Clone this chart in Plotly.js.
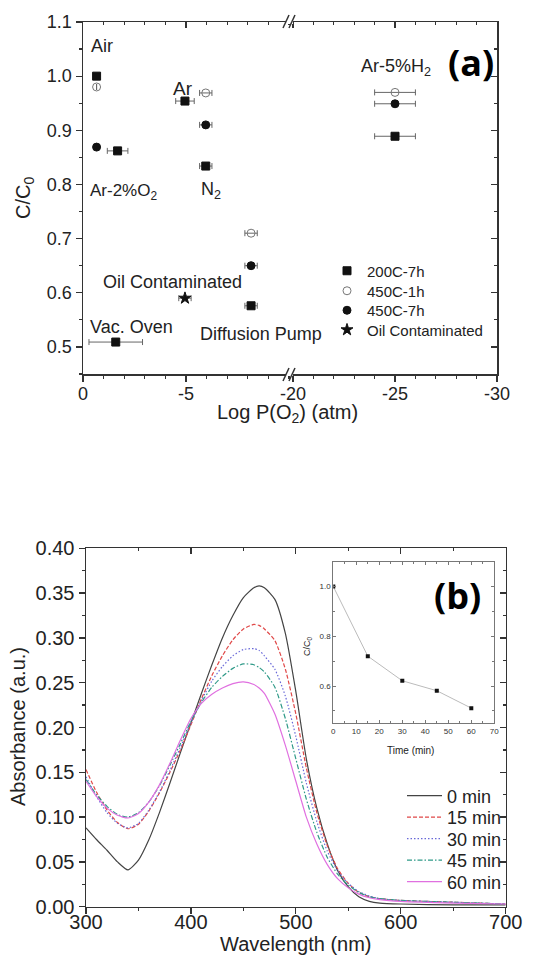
<!DOCTYPE html>
<html><head><meta charset="utf-8">
<script src="https://cdn.plot.ly/plotly-3.0.1.min.js"></script>
<style>html,body{margin:0;padding:0;background:#fff}#chart{width:554px;height:959px}</style>
</head><body><div id="chart"></div>
<script>
// ---------- Panel (a) data: Log P(O2) vs C/C0 ----------
const s200_x   = [-0.66, -1.68, -4.95, -5.96, -8.16, -1.59, -25.0];
const s200_y   = [1.000, 0.862, 0.954, 0.834, 0.576, 0.509, 0.889];
const s200_err = [0, 0.5, 0.45, 0.3, 0.3, 1.3, 1.0];

const s450a_x   = [-0.66, -5.96, -8.16, -25.0];
const s450a_y   = [0.980, 0.969, 0.710, 0.970];
const s450a_err = [0, 0.3, 0.3, 1.0];

const s450b_x   = [-0.66, -5.96, -8.16, -25.0];
const s450b_y   = [0.869, 0.910, 0.650, 0.949];
const s450b_err = [0, 0.3, 0.3, 1.0];

const oil_x   = [-4.95];
const oil_y   = [0.590];
const oil_err = [0.3];

const seriesNamesA = ['200C-7h', '450C-1h', '450C-7h', 'Oil Contaminated'];

// ---------- Panel (b) data: absorbance spectra ----------
const wavelength = [300,310,320,330,340,350,360,370,380,390,400,410,420,430,440,450,460,465,470,480,490,500,510,520,530,540,550,560,570,580,600,650,700];
const abs0  = [0.088,0.075,0.063,0.050,0.041,0.052,0.075,0.105,0.138,0.172,0.205,0.238,0.270,0.300,0.325,0.345,0.356,0.358,0.356,0.343,0.305,0.240,0.165,0.110,0.070,0.040,0.022,0.011,0.006,0.004,0.003,0.002,0.002];
const abs15 = [0.153,0.128,0.108,0.094,0.087,0.092,0.107,0.127,0.150,0.175,0.203,0.232,0.258,0.280,0.298,0.310,0.315,0.314,0.310,0.297,0.265,0.215,0.155,0.105,0.068,0.042,0.026,0.016,0.011,0.009,0.007,0.005,0.003];
const abs30 = [0.145,0.123,0.105,0.093,0.088,0.093,0.108,0.128,0.152,0.178,0.205,0.230,0.252,0.268,0.280,0.287,0.288,0.286,0.280,0.265,0.235,0.190,0.138,0.095,0.062,0.040,0.026,0.017,0.012,0.009,0.007,0.005,0.003];
const abs45 = [0.142,0.125,0.112,0.103,0.100,0.105,0.117,0.135,0.158,0.182,0.207,0.228,0.245,0.257,0.266,0.271,0.270,0.267,0.262,0.245,0.210,0.165,0.120,0.083,0.055,0.036,0.024,0.016,0.011,0.009,0.007,0.005,0.003];
const abs60 = [0.140,0.123,0.110,0.102,0.099,0.104,0.117,0.136,0.160,0.186,0.210,0.227,0.237,0.244,0.249,0.251,0.248,0.244,0.238,0.215,0.180,0.140,0.100,0.070,0.047,0.031,0.021,0.014,0.010,0.008,0.006,0.004,0.003];
const specNames = ['0 min','15 min','30 min','45 min','60 min'];

// inset
const time_min = [0, 15, 30, 45, 60];
const cc0      = [1.00, 0.72, 0.621, 0.581, 0.511];

// ---------- helpers ----------
const W = 554, H = 959;
const px = v => v / W;
const py = v => 1 - v / H;
const FONT = 'Liberation Sans, Arial, sans-serif';
const AX = '#333';

function split(xs, ys, es, left) {
  const o = {x: [], y: [], e: []};
  xs.forEach((v, i) => { if ((v > -15) === left) { o.x.push(v); o.y.push(ys[i]); o.e.push(es[i]); } });
  return o;
}

const styleA = [
  {symbol: 'square', color: '#111', size: 8},
  {symbol: 'circle-open', color: '#777', size: 8},
  {symbol: 'circle', color: '#111', size: 8},
  {symbol: 'star', color: '#111', size: 9}
];
const dataA = [[s200_x, s200_y, s200_err], [s450a_x, s450a_y, s450a_err], [s450b_x, s450b_y, s450b_err], [oil_x, oil_y, oil_err]];
const legA = ['legend', 'legend3', 'legend4', 'legend5'];
const legArows = [271, 291, 310.5, 330];

const traces = [];
dataA.forEach((d, k) => {
  [true, false].forEach(left => {
    const s = split(d[0], d[1], d[2], left);
    if (!s.x.length) return;
    traces.push({
      type: 'scatter', mode: 'markers', name: seriesNamesA[k],
      x: s.x, y: s.y, xaxis: left ? 'x' : 'x2', yaxis: 'y',
      marker: {symbol: styleA[k].symbol, color: styleA[k].color, size: styleA[k].size, line: {width: 1, color: styleA[k].color}},
      error_x: {type: 'data', array: s.e, color: '#666', thickness: 1, width: 3},
      showlegend: left, legend: legA[k]
    });
  });
});

const specStyle = [
  {color: '#444', dash: 'solid'},
  {color: '#e04848', dash: '4px,2px'},
  {color: '#6868d8', dash: '1.5px,2px'},
  {color: '#2f9a88', dash: '5px,2px,1.5px,2px'},
  {color: '#e070e0', dash: 'solid'}
];
const legB = ['legend2', 'legend6', 'legend7', 'legend8', 'legend9'];
const legBrows = [796, 817.5, 839, 860.5, 882];
[abs0, abs15, abs30, abs45, abs60].forEach((a, k) => {
  traces.push({
    type: 'scatter', mode: 'lines', name: specNames[k], x: wavelength, y: a,
    xaxis: 'x5', yaxis: 'y3', legend: legB[k],
    line: {color: specStyle[k].color, dash: specStyle[k].dash, width: 1.2, shape: 'spline', smoothing: 0.6}
  });
});
traces.push({
  type: 'scatter', mode: 'lines+markers', x: time_min, y: cc0, xaxis: 'x7', yaxis: 'y5',
  showlegend: false, line: {color: '#bbb', width: 1}, marker: {symbol: 'square', size: 4, color: '#111'}
});
// empty traces to register mirror axes
[['x3','y'],['x4','y'],['x2','y2'],['x6','y3'],['x5','y4']].forEach(p => {
  traces.push({type: 'scatter', x: [], y: [], xaxis: p[0], yaxis: p[1], showlegend: false, hoverinfo: 'skip'});
});

const tfA = {family: FONT, size: 18, color: '#222'};
const tfB = {family: FONT, size: 20, color: '#222'};
const baseAx = {showline: true, linecolor: AX, linewidth: 1.5, zeroline: false, showgrid: false, tickcolor: AX, tickwidth: 1.2, fixedrange: true};

const domA_y = [py(374), py(22)];
const domA_x1 = [px(83), px(290)];
const domA_x2 = [px(290), px(497)];
const domB_x = [px(86), px(505.7)];
const domB_y = [py(906.7), py(548.3)];

const layout = {
  width: W, height: H, margin: {l: 0, r: 0, t: 0, b: 0},
  paper_bgcolor: '#fff', plot_bgcolor: '#fff', font: {family: FONT, color: '#222'},
  showlegend: true,
  // ---- panel (a)
  xaxis: Object.assign({}, baseAx, {domain: domA_x1, range: [0, -10.05], anchor: 'y', ticks: 'outside', ticklen: 6,
    tickmode: 'array', tickvals: [0, -5], ticktext: ['0', '-5'], tickfont: tfA, ticklabelstandoff: -3,
    minor: {tickmode: 'linear', tick0: 0, dtick: 1, ticks: 'outside', ticklen: 3, tickcolor: AX}}),
  xaxis2: Object.assign({}, baseAx, {domain: domA_x2, range: [-19.85, -30], anchor: 'y', ticks: 'outside', ticklen: 6,
    tickmode: 'array', tickvals: [-20, -25, -30], ticktext: ['-20', '-25', '-30'], tickfont: tfA, ticklabelstandoff: -3,
    minor: {tickmode: 'linear', tick0: 0, dtick: 1, ticks: 'outside', ticklen: 3, tickcolor: AX}}),
  xaxis3: Object.assign({}, baseAx, {overlaying: 'x', side: 'top', anchor: 'y', range: [0, -10.05], ticks: 'inside', ticklen: 6,
    tickmode: 'array', tickvals: [0, -5], showticklabels: false,
    minor: {tickmode: 'linear', tick0: 0, dtick: 1, ticks: 'inside', ticklen: 3, tickcolor: AX}}),
  xaxis4: Object.assign({}, baseAx, {overlaying: 'x2', side: 'top', anchor: 'y', range: [-19.85, -30], ticks: 'inside', ticklen: 6,
    tickmode: 'array', tickvals: [-20, -25, -30], showticklabels: false,
    minor: {tickmode: 'linear', tick0: 0, dtick: 1, ticks: 'inside', ticklen: 3, tickcolor: AX}}),
  yaxis: Object.assign({}, baseAx, {domain: domA_y, range: [0.45, 1.1], anchor: 'x', ticks: 'outside', ticklen: 6,
    tick0: 0, dtick: 0.1, tickformat: '.1f', tickfont: tfA,
    minor: {tick0: 0, dtick: 0.05, ticks: 'outside', ticklen: 3, tickcolor: AX}}),
  yaxis2: Object.assign({}, baseAx, {overlaying: 'y', side: 'right', anchor: 'x2', range: [0.45, 1.1], ticks: 'inside', ticklen: 6,
    tick0: 0, dtick: 0.1, showticklabels: false,
    minor: {tick0: 0, dtick: 0.05, ticks: 'inside', ticklen: 3, tickcolor: AX}}),
  // ---- panel (b)
  xaxis5: Object.assign({}, baseAx, {domain: domB_x, range: [300, 700], anchor: 'y3', ticks: 'outside', ticklen: 6,
    tick0: 300, dtick: 100, tickfont: tfB, ticklabelstandoff: -9,
    minor: {tick0: 300, dtick: 50, ticks: 'outside', ticklen: 3, tickcolor: AX}}),
  xaxis6: Object.assign({}, baseAx, {overlaying: 'x5', side: 'top', anchor: 'y3', range: [300, 700], ticks: 'inside', ticklen: 6,
    tick0: 300, dtick: 100, showticklabels: false,
    minor: {tick0: 300, dtick: 50, ticks: 'inside', ticklen: 3, tickcolor: AX}}),
  yaxis3: Object.assign({}, baseAx, {domain: domB_y, range: [0, 0.40], anchor: 'x5', ticks: 'outside', ticklen: 6,
    tick0: 0, dtick: 0.05, tickformat: '.2f', tickfont: tfB,
    minor: {tick0: 0, dtick: 0.025, ticks: 'outside', ticklen: 3, tickcolor: AX}}),
  yaxis4: Object.assign({}, baseAx, {overlaying: 'y3', side: 'right', anchor: 'x5', range: [0, 0.40], ticks: 'inside', ticklen: 6,
    tick0: 0, dtick: 0.05, showticklabels: false,
    minor: {tick0: 0, dtick: 0.025, ticks: 'inside', ticklen: 3, tickcolor: AX}}),
  // ---- inset
  xaxis7: {domain: [px(333.3), px(494.3)], range: [0, 70], anchor: 'y5', showline: true, linecolor: '#777', linewidth: 1, mirror: 'ticks',
    zeroline: false, showgrid: false, ticks: 'inside', ticklen: 3, tickcolor: '#777', tick0: 0, dtick: 10,
    tickfont: {family: FONT, size: 8, color: '#333'}, minor: {tick0: 0, dtick: 5, ticks: 'inside', ticklen: 2, tickcolor: '#777'}},
  yaxis5: {domain: [py(723.3), py(561.7)], range: [0.45, 1.1], anchor: 'x7', showline: true, linecolor: '#777', linewidth: 1, mirror: 'ticks',
    zeroline: false, showgrid: false, ticks: 'inside', ticklen: 3, tickcolor: '#777', tick0: 0, dtick: 0.2, tickformat: '.1f',
    tickfont: {family: FONT, size: 8, color: '#333'}, minor: {tick0: 0, dtick: 0.1, ticks: 'inside', ticklen: 2, tickcolor: '#777'}},
  annotations: [
    {text: 'Air', x: px(89), y: py(46), xanchor: 'left', size: 18},
    {text: 'Ar', x: px(171), y: py(88), xanchor: 'left', size: 19},
    {text: 'Ar-2%O<sub>2</sub>', x: px(88), y: py(192), xanchor: 'left', size: 17},
    {text: 'N<sub>2</sub>', x: px(199), y: py(191), xanchor: 'left', size: 18},
    {text: 'Ar-5%H<sub>2</sub>', x: px(359), y: py(67), xanchor: 'left', size: 18},
    {text: 'Oil Contaminated', x: px(101), y: py(282), xanchor: 'left', size: 18},
    {text: 'Vac. Oven', x: px(88), y: py(327), xanchor: 'left', size: 18},
    {text: 'Diffusion Pump', x: px(198), y: py(334), xanchor: 'left', size: 18},
    {text: '<b>(a)</b>', x: px(471), y: py(62), xanchor: 'center', size: 36, family: 'Open Sans, sans-serif', color: '#000'},
    {text: 'Log P(O<sub>2</sub>) (atm)', x: px(287), y: py(414), xanchor: 'center', size: 20},
    {text: 'C/C<sub>0</sub>', x: px(25), y: py(198), xanchor: 'center', size: 20, textangle: -90},
    {text: '<b>(b)</b>', x: px(457), y: py(595), xanchor: 'center', size: 36, family: 'Open Sans, sans-serif', color: '#000'},
    {text: 'Wavelength (nm)', x: px(296), y: py(944), xanchor: 'center', size: 20},
    {text: 'Absorbance (a.u.)', x: px(18), y: py(727), xanchor: 'center', size: 20, textangle: -90},
    {text: 'C/C<sub>0</sub>', x: px(307), y: py(646), xanchor: 'center', size: 9, textangle: -90},
    {text: 'Time (min)', x: px(410), y: py(750), xanchor: 'center', size: 10}
  ].map(a => ({
    text: a.text, x: a.x, y: a.y, xref: 'paper', yref: 'paper', xanchor: a.xanchor, yanchor: 'middle',
    showarrow: false, textangle: a.textangle || 0,
    font: {family: a.family || FONT, size: a.size, color: a.color || '#222'}
  })),
  shapes: [
    {type: 'rect', xref: 'paper', yref: 'paper', x0: px(286), x1: px(293), y0: py(24), y1: py(19), fillcolor: '#fff', line: {width: 0}, layer: 'above'},
    {type: 'rect', xref: 'paper', yref: 'paper', x0: px(286), x1: px(293), y0: py(376), y1: py(371), fillcolor: '#fff', line: {width: 0}, layer: 'above'},
    {type: 'line', xref: 'paper', yref: 'paper', x0: px(283), y0: py(28), x1: px(289), y1: py(15), line: {color: AX, width: 1.5}, layer: 'above'},
    {type: 'line', xref: 'paper', yref: 'paper', x0: px(289), y0: py(28), x1: px(295), y1: py(15), line: {color: AX, width: 1.5}, layer: 'above'},
    {type: 'line', xref: 'paper', yref: 'paper', x0: px(283), y0: py(381), x1: px(289), y1: py(368), line: {color: AX, width: 1.5}, layer: 'above'},
    {type: 'line', xref: 'paper', yref: 'paper', x0: px(289), y0: py(381), x1: px(295), y1: py(368), line: {color: AX, width: 1.5}, layer: 'above'}
  ]
};

legA.forEach((name, k) => {
  layout[name] = {x: px(327), y: py(legArows[k]), xanchor: 'left', yanchor: 'middle', bgcolor: 'rgba(0,0,0,0)', borderwidth: 0,
    font: {family: FONT, size: 15, color: '#222'}, itemwidth: 30};
});
legB.forEach((name, k) => {
  layout[name] = {x: px(402), y: py(legBrows[k]), xanchor: 'left', yanchor: 'middle', bgcolor: 'rgba(0,0,0,0)', borderwidth: 0,
    font: {family: FONT, size: 18, color: '#222'}, itemwidth: 35};
});

Plotly.newPlot('chart', traces, layout, {staticPlot: true, displayModeBar: false});
</script></body></html>
